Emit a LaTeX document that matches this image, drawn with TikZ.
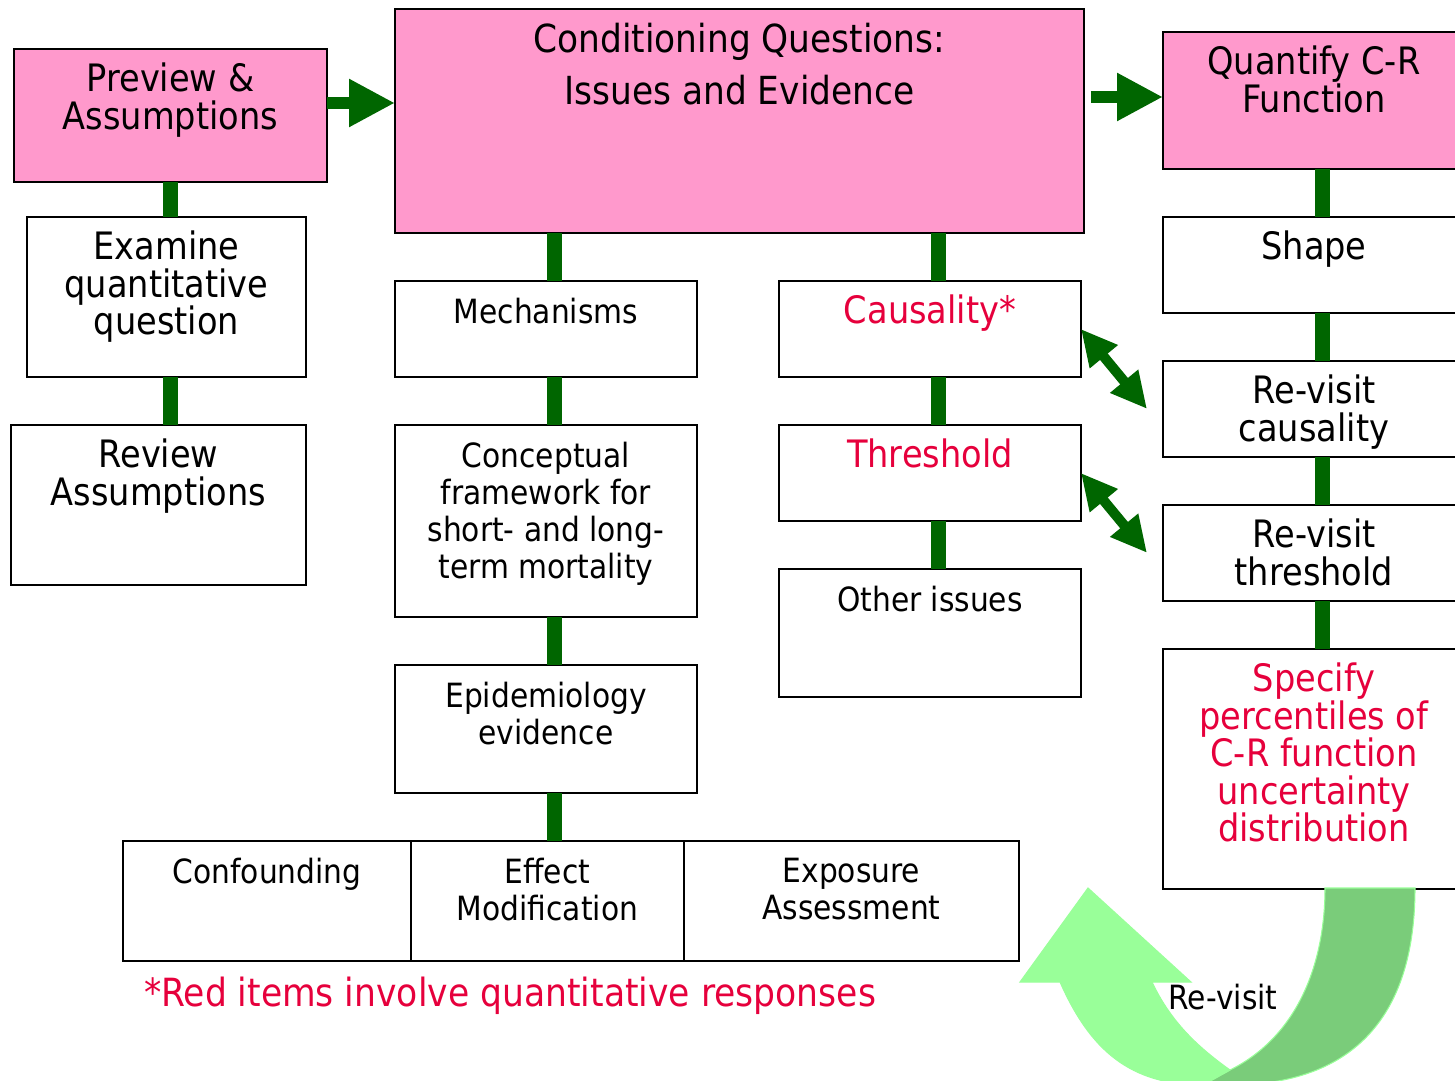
\documentclass[tikz,border=0pt]{standalone}
\usepackage{fontspec}
\setmainfont{DejaVu Sans}[FakeStretch=0.89]
\usepackage{tikz}
\usetikzlibrary{positioning,arrows.meta}
\usepackage{xcolor}
\definecolor{boxpink}{HTML}{FF99CC}
\definecolor{linkgreen}{HTML}{006600}
\definecolor{quantred}{HTML}{E6003C}
\definecolor{uturnlight}{HTML}{99FF99}
\definecolor{uturndark}{HTML}{7ACC7A}

\begin{document}
\begin{tikzpicture}[
    x=0.02cm, y=-0.02cm,
    node distance=0.96cm,
    box/.style={rectangle, draw, line width=1pt, fill=white, minimum width=6.04cm, inner sep=0pt, outer sep=0pt},
    pinkbox/.style={box, fill=boxpink},
    big/.style={font=\fontsize{21.5}{21.3}\selectfont, inner sep=7.9pt},
    small/.style={font=\fontsize{19}{21}\selectfont, inner sep=9.8pt},
    title/.style={font=\fontsize{22}{29.5}\selectfont, inner sep=8pt},
    txt/.style={anchor=north, align=center},
    quant/.style={text=quantred},
    link/.style={draw=linkgreen, line width=0.3cm},
    fatarrow/.style={draw=linkgreen, line width=0.25cm, -{Triangle[length=0.92cm, width=0.9cm]}},
    dblarrow/.style={draw=linkgreen, line width=0.2cm, {Triangle[length=0.72cm, width=0.68cm]}-{Triangle[length=0.72cm, width=0.68cm]}}
]
\useasboundingbox (0,0) rectangle (1455,1081);

% left column
\node[pinkbox, minimum width=6.26cm, minimum height=2.66cm, anchor=north west,
      label={[txt,big]north:Preview \&\\Assumptions}] (preview) at (14,49) {};
\node[box, minimum width=5.58cm, minimum height=3.2cm, anchor=north west,
      label={[txt,big]north:Examine\\quantitative\\question}] (examine) at (27,217) {};
\node[box, minimum width=5.9cm, minimum height=3.2cm, anchor=north west,
      label={[txt,big]north:Review\\Assumptions}] (review) at (11,425) {};

% middle
\node[pinkbox, minimum width=13.78cm, minimum height=4.48cm, anchor=north west,
      label={[txt,title]north:Conditioning Questions:\\Issues and Evidence}] (conditioning) at (395,9) {};
\node[box, minimum height=1.92cm, anchor=north west,
      label={[txt,small]north:Mechanisms}] (mechanisms) at (395,281) {};
\node[box, minimum height=3.84cm, below=of mechanisms,
      label={[txt,small]north:Conceptual\\framework for\\short- and long-\\term mortality}] (framework) {};
\node[box, minimum height=2.56cm, below=of framework,
      label={[txt,small]north:Epidemiology\\evidence}] (epidemiology) {};
\node[box, minimum width=5.46cm, minimum height=2.4cm, anchor=north west,
      label={[txt,small]north:Effect\\Modification}] (effectmod) at (411,841) {};
\node[box, minimum width=5.76cm, minimum height=2.4cm, left=0cm of effectmod,
      label={[txt,small]north:Confounding}] (confounding) {};
\node[box, minimum width=6.7cm, minimum height=2.4cm, right=0cm of effectmod,
      label={[txt,small]north:Exposure\\Assessment}] (exposure) {};

\node[box, minimum height=1.92cm, anchor=north west,
      label={[txt,big,quant]north:Causality*}] (causality) at (779,281) {};
\node[box, minimum height=1.92cm, below=of causality,
      label={[txt,big,quant]north:Threshold}] (threshold) {};
\node[box, minimum height=2.56cm, below=of threshold,
      label={[txt,small]north:Other issues}] (otherissues) {};

% right column
\node[pinkbox, minimum height=2.74cm, anchor=north west,
      label={[txt,big]north:Quantify C-R\\Function}] (quantify) at (1163,32) {};
\node[box, minimum height=1.92cm, below=of quantify,
      label={[txt,big]north:Shape}] (shape) {};
\node[box, minimum height=1.92cm, below=of shape,
      label={[txt,big]north:Re-visit\\causality}] (revcausality) {};
\node[box, minimum height=1.92cm, below=of revcausality,
      label={[txt,big]north:Re-visit\\threshold}] (revthreshold) {};
\node[box, minimum height=4.8cm, below=of revthreshold,
      label={[txt,big,quant]north:Specify\\percentiles of\\C-R function\\uncertainty\\distribution}] (percentiles) {};

% connectors
\draw[link] (preview.south) -- (preview.south |- examine.north);
\draw[link] (preview.south |- examine.south) -- (preview.south |- review.north);
\draw[link] ([xshift=0.18cm]mechanisms.north |- conditioning.south) -- ([xshift=0.18cm]mechanisms.north);
\draw[link] ([xshift=0.18cm]mechanisms.south) -- ([xshift=0.18cm]framework.north);
\draw[link] ([xshift=0.18cm]framework.south) -- ([xshift=0.18cm]epidemiology.north);
\draw[link] ([xshift=0.18cm]epidemiology.south) -- ([xshift=0.18cm]epidemiology.south |- effectmod.north);
\draw[link] ([xshift=0.18cm]causality.north |- conditioning.south) -- ([xshift=0.18cm]causality.north);
\draw[link] ([xshift=0.18cm]causality.south) -- ([xshift=0.18cm]threshold.north);
\draw[link] ([xshift=0.18cm]threshold.south) -- ([xshift=0.18cm]otherissues.north);
\draw[link] ([xshift=0.18cm]quantify.south) -- ([xshift=0.18cm]shape.north);
\draw[link] ([xshift=0.18cm]shape.south) -- ([xshift=0.18cm]revcausality.north);
\draw[link] ([xshift=0.18cm]revcausality.south) -- ([xshift=0.18cm]revthreshold.north);
\draw[link] ([xshift=0.18cm]revthreshold.south) -- ([xshift=0.18cm]percentiles.north);

\draw[fatarrow] ([yshift=0.25cm]preview.east) -- ([yshift=0.25cm]preview.east -| conditioning.west);
\draw[fatarrow] ([xshift=0.14cm,yshift=0.07cm]conditioning.east |- quantify.west) -- ([yshift=0.07cm]quantify.west);
\draw[dblarrow] (causality.east) -- ([xshift=-0.32cm]revcausality.west);
\draw[dblarrow] (threshold.east) -- ([xshift=-0.32cm]revthreshold.west);

% re-visit u-turn
\filldraw[fill=uturndark, draw=uturnlight, line width=0.6pt]
    (1325,888) -- (1415,888) .. controls (1415,1030) and (1340,1085) .. (1230,1085)
    -- (1203,1085) -- (1230,1070) .. controls (1300,1035) and (1325,960) .. (1325,888) -- cycle;
\filldraw[fill=uturnlight, draw=uturnlight, line width=0.6pt]
    (1060,982) .. controls (1090,1050) and (1130,1085) .. (1203,1085) -- (1230,1070)
    .. controls (1195,1045) and (1170,1020) .. (1152,982) -- (1191,982) -- (1088,888)
    -- (1020,982) -- cycle;
\node[font=\fontsize{19}{21}\selectfont] (revisit) at (1223,997) {Re-visit};

\node[font=\fontsize{22.1}{22}\selectfont, text=quantred] (note) at (510,996) {*Red items involve quantitative responses};

\end{tikzpicture}
\end{document}
